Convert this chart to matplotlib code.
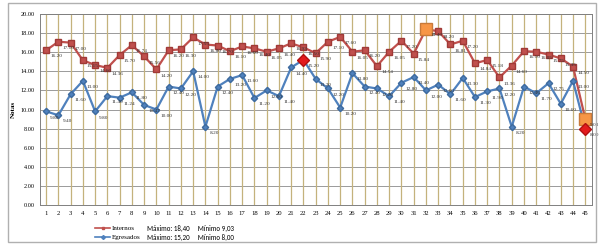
import matplotlib
matplotlib.use("Agg")
import matplotlib.pyplot as plt
from matplotlib.patches import Rectangle

categories = list(range(1, 46))
internos = [16.20, 17.10, 17.00, 15.15, 14.66, 14.36, 15.70, 16.74, 15.56, 14.20,
            16.20, 16.30, 17.55, 16.80, 16.70, 16.10, 16.60, 16.40, 16.05, 16.40,
            16.93, 16.50, 15.90, 17.10, 17.60, 16.05, 16.20, 14.54, 16.05, 17.20,
            15.84, 18.40, 18.20, 16.81, 17.20, 14.84, 15.18, 13.36, 14.60, 16.10,
            16.05, 15.75, 15.35, 14.50, 9.03]
egresados = [9.80, 9.40, 11.60, 13.00, 9.80, 11.40, 11.24, 11.80, 10.47, 10.00,
             12.40, 12.20, 14.00, 8.20, 12.40, 13.20, 13.60, 11.20, 12.00, 11.40,
             14.40, 15.20, 13.20, 12.20, 10.20, 13.80, 12.40, 12.20, 11.40, 12.80,
             13.40, 12.00, 12.60, 11.60, 13.30, 11.30, 11.90, 12.20, 8.20, 12.40,
             11.70, 12.75, 10.60, 13.00, 8.00]
yticks = [0, 2, 4, 6, 8, 10, 12, 14, 16, 18, 20]
legend_labels = ["Internos", "Egresados"]
stats_text = ["Máximo: 18,40     Mínimo 9,03", "Máximo: 15,20     Mínimo 8,00"]

red = "#c0504d"
blue = "#4f81bd"
serif = ["Liberation Serif", "DejaVu Serif"]

fig = plt.figure(figsize=(6.06, 2.44), dpi=100)
fig.patches.append(Rectangle((8/606, 2/244), 588/606, 239/244, transform=fig.transFigure,
                             fill=False, edgecolor="#b0b0b0", linewidth=1.0))
ax = fig.add_axes([40/606, 1-205/244, 552/606, 191/244])

ax.set_xlim(0.5, 45.55)
ax.set_ylim(0, 20)
ax.set_yticks(yticks)
ax.set_yticklabels([f"{v:.2f}" for v in yticks], fontsize=4.5, family=serif)
ax.set_xticks(categories)
ax.set_xticklabels([str(c) for c in categories], fontsize=4.8, family=serif)
ax.tick_params(length=0, pad=4)
for y in yticks:
    ax.axhline(y, color="#9a9a9a", lw=0.7, zorder=0)
for x in categories:
    ax.axvline(x, color="#c4b27c", lw=0.9, zorder=0)
for s in ax.spines.values():
    s.set_color("#808080")
    s.set_linewidth(0.7)

ax.plot(categories, internos, color=red, lw=1.6, marker="s", ms=4.3, mfc=red, mec="#a03a37",
        zorder=3)
ax.plot(categories, egresados, color=blue, lw=1.6, marker="D", ms=3.2, mfc=blue, mec="#3d6a9e",
        zorder=3)

# highlighted extremes
imax = internos.index(max(internos)); imin = internos.index(min(internos))
emax = egresados.index(max(egresados)); emin = egresados.index(min(egresados))
for i in (imax, imin):
    ax.plot(categories[i], internos[i], marker="s", ms=8, mfc="#f79646", mec="#c87a3a", zorder=5)
for i in (emax, emin):
    ax.plot(categories[i], egresados[i], marker="D", ms=6.5, mfc="#e31a1c", mec="#b01010", zorder=5)

for x, v in zip(categories, internos):
    ax.annotate(f"{v:.2f}", (x, v), xytext=(3, -3), textcoords="offset points",
                fontsize=3.8, family=serif, color="#333333", va="top", ha="left", zorder=6)
for x, v in zip(categories, egresados):
    ax.annotate(f"{v:.2f}", (x, v), xytext=(3, -3), textcoords="offset points",
                fontsize=3.8, family=serif, color="#333333", va="top", ha="left", zorder=6)

ax.set_ylabel("Notas", fontsize=5, family=serif, fontweight="bold", labelpad=3)

# legend drawn manually in figure coordinates
for k, (lab, col, mk) in enumerate(zip(legend_labels, [red, blue], ["s", "D"])):
    yy = 1 - (228 + 9*k)/244
    fig.add_artist(plt.Line2D([95/606, 110/606], [yy, yy], color=col, lw=1.2,
                              transform=fig.transFigure))
    fig.add_artist(plt.Line2D([102.5/606], [yy], color=col, marker=mk, ms=2,
                              transform=fig.transFigure))
    fig.text(112/606, yy, lab, fontsize=5, family=serif, va="center", ha="left")
    fig.text(147/606, yy, stats_text[k], fontsize=5, family=["Carlito", "Liberation Sans", "DejaVu Sans"],
             va="center", ha="left")

fig.savefig("out.png", dpi=100)
